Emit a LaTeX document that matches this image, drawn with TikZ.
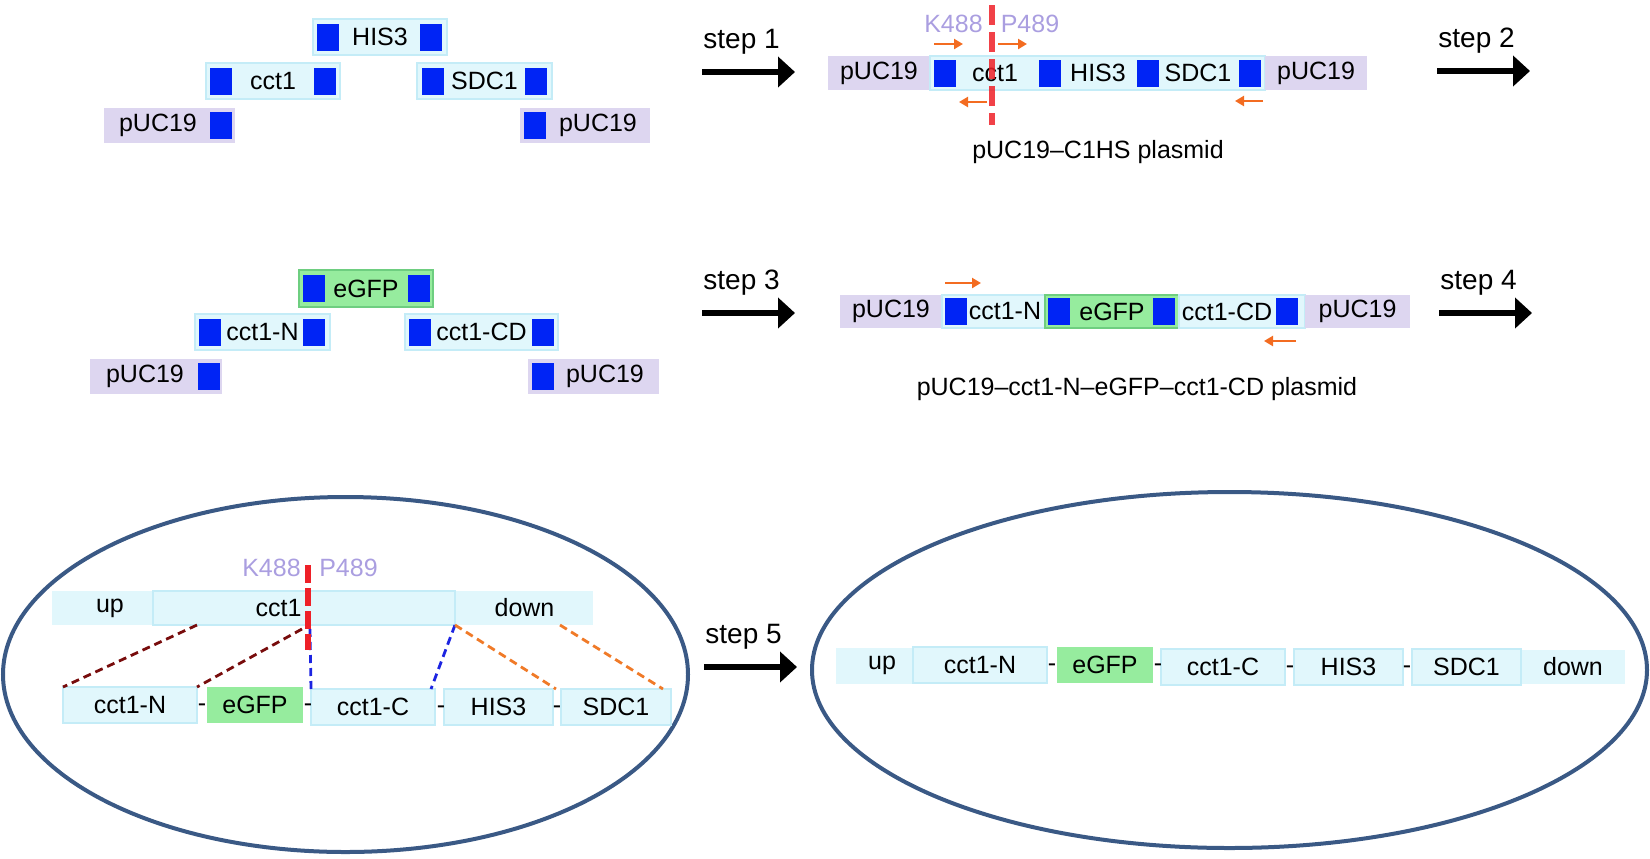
\documentclass[tikz,border=0pt]{standalone}
\usepackage{fontspec}
\setmainfont{Liberation Sans}
\usetikzlibrary{arrows.meta,positioning,shapes.geometric}

\definecolor{lavfill}{RGB}{221,214,240}
\definecolor{cyanfill}{RGB}{225,247,252}
\definecolor{cyanline}{RGB}{196,236,247}
\definecolor{sqblue}{RGB}{0,36,245}
\definecolor{gfpfill}{RGB}{150,236,158}
\definecolor{gfpline}{RGB}{110,206,128}
\definecolor{sitecol}{RGB}{170,158,224}
\definecolor{cutred}{RGB}{238,32,40}
\definecolor{primercol}{RGB}{243,108,33}
\definecolor{mapred}{RGB}{120,12,12}
\definecolor{mapblue}{RGB}{28,36,225}
\definecolor{maporange}{RGB}{240,122,40}
\definecolor{ellcol}{RGB}{58,89,133}

\newcommand{\lblfont}{\fontsize{12.5}{15}\selectfont}
\newcommand{\stepfont}{\fontsize{14}{17}\selectfont}

\begin{document}
\begin{tikzpicture}[
    x=0.5pt, y=-0.5pt,
    wd/.style={minimum width=#1*0.5pt},
    ht/.style={minimum height=#1*0.5pt},
    seg/.style={rectangle, inner sep=0pt, outer sep=0pt, ht=36, font=\lblfont},
    pucbox/.style={seg, fill=lavfill},
    armbox/.style={seg, fill=cyanfill},
    cctbox/.style={seg, fill=cyanfill, draw=cyanline, line width=1pt},
    gfpbox/.style={seg, fill=gfpfill},
    gfpedge/.style={gfpbox, draw=gfpline, line width=1pt},
    homol/.style={rectangle, fill=sqblue, inner sep=0pt, outer sep=0pt, wd=22, ht=27},
    txt/.style={inner sep=0pt, font=\lblfont},
    site/.style={txt, text=sitecol},
    steptxt/.style={inner sep=0pt, anchor=west, font=\stepfont},
    steparrow/.style={-{Triangle[length=8.5pt,width=15pt]}, line width=3.4pt},
    primer/.style={-{Triangle[length=4.5pt,width=5pt]}, line width=1.2pt, primercol},
    cutline/.style={cutred, line width=3pt, dash pattern=on 10pt off 3.5pt},
    mapline/.style={line width=1.4pt, dash pattern=on 4pt off 2.5pt},
    lens/.style={ellipse, draw=ellcol, line width=2pt, inner sep=0pt}
]
\useasboundingbox (0,0) rectangle (1650,858);

% fragments for step 1
\node[cctbox, wd=134] (his1) at (380,37) {HIS3};
\node[cctbox, wd=134] (cct1) at (273,81) {cct1};
\node[cctbox, wd=135] (sdc1) at (484.5,81) {SDC1};
\node[pucbox, wd=131, ht=35] (puc1) at (169.5,125.5) {};
\node[pucbox, wd=130, ht=35] (puc2) at (585,125.5) {};
\node[txt] (puc1t) at (158,125.5) {pUC19};
\node[txt] (puc2t) at (598,125.5) {pUC19};
\foreach \x/\y [count=\i] in {327.5/37,431/37,221/81,324.5/81,432.5/81,536/81,221/125.5,535/125.5}
    \node[homol] (hma\i) at (\x,\y) {};

% pUC19-C1HS plasmid
\node[pucbox, wd=102, ht=34] (pl1a) at (879,73) {pUC19};
\node[cctbox, wd=335, ht=34, right=0pt of pl1a] (pl1b) {};
\node[pucbox, wd=102, ht=34, right=0pt of pl1b] (pl1c) {pUC19};
\foreach \x [count=\i] in {945,1049.5,1147.5,1249.5}
    \node[homol] (hmb\i) at (\x,73) {};
\node[txt] (pl1t1) at (995,73) {cct1};
\node[txt] (pl1t2) at (1098,73) {HIS3};
\node[txt] (pl1t3) at (1198,73) {SDC1};
\foreach \a/\b/\y in {934/963/44, 998/1027/44, 987/959/102, 1263/1235/101}
    \draw[primer] (\a,\y) -- (\b,\y);
\coordinate (cut1a) at (992,5);
\coordinate (cut1b) at (992,125);
\draw[cutline, opacity=0.85] (cut1a) -- (cut1b);
\node[site] (k1) at (953.5,24) {K488};
\node[site] (p1) at (1030,24) {P489};
\node[txt] (cap1) at (1098,152) {pUC19–C1HS plasmid};

% fragments for step 3
\node[gfpedge, wd=134, ht=37] (gfp3) at (366,288.5) {eGFP};
\node[cctbox, wd=135] (ctn3) at (262.5,332) {cct1-N};
\node[cctbox, wd=153] (ctc3) at (481.5,332) {cct1-CD};
\node[pucbox, wd=132, ht=35] (puc3) at (156,376) {};
\node[pucbox, wd=131, ht=35] (puc4) at (593.5,376) {};
\node[txt] (puc3t) at (145,376) {pUC19};
\node[txt] (puc4t) at (605,376) {pUC19};
\foreach \x/\y [count=\i] in {313.5/288.5,418.5/288.5,210/332,313.5/332,419.5/332,542.5/332,208.5/376,542.5/376}
    \node[homol] (hmc\i) at (\x,\y) {};

% pUC19-cct1-N-eGFP-cct1-CD plasmid
\node[pucbox, wd=102, ht=33] (pl2a) at (891,311.5) {pUC19};
\node[cctbox, wd=103, ht=33, right=0pt of pl2a] (pl2b) {};
\node[gfpedge, wd=134, ht=33, right=0pt of pl2b] (pl2c) {};
\node[cctbox, wd=126, ht=33, right=0pt of pl2c] (pl2d) {};
\node[pucbox, wd=105, ht=33, right=0pt of pl2d] (pl2e) {pUC19};
\foreach \x [count=\i] in {955.5,1058.5,1164,1287}
    \node[homol] (hmd\i) at (\x,311.5) {};
\node[txt] (pl2t1) at (1005,311.5) {cct1-N};
\node[txt] (pl2t2) at (1112,311.5) {eGFP};
\node[txt] (pl2t3) at (1227,311.5) {cct1-CD};
\foreach \a/\b/\y in {945/981/283, 1296/1264/341}
    \draw[primer] (\a,\y) -- (\b,\y);
\node[txt] (cap2) at (1137,389) {pUC19–cct1-N–eGFP–cct1-CD plasmid};

% step arrows
\foreach \n/\x/\y in {1/703/42, 2/1438/41, 3/703/283, 4/1440/283, 5/705/637} {
    \node[steptxt] (step\n) at (\x,\y) {step \n};
    \coordinate (sa\n) at (\x-1,\y+30);
    \coordinate (sb\n) at (\x+92,\y+30);
    \draw[steparrow] (sa\n) -- (sb\n);
}

% genome locus and donor
\node[lens, wd=685, ht=355] (lens1) at (345.5,674.5) {};
\node[armbox, wd=116, ht=34] (up1) at (110,608) {up};
\node[armbox, wd=137, ht=34] (dn1) at (524.5,608) {down};
\node[cctbox, wd=302, ht=34] (gene1) at (304,608) {};
\node[txt] (gene1t) at (278.5,608) {cct1};
\node[cctbox, wd=134] (ctn5) at (130,705) {cct1-N};
\node[gfpbox, wd=96] (gfp5) at (255,705) {eGFP};
\node[cctbox, wd=124] (ctc5) at (373,707) {cct1-C};
\node[cctbox, wd=109] (his5) at (498.5,707) {HIS3};
\node[cctbox, wd=110] (sdc5) at (616,707) {SDC1};
\foreach \x/\y [count=\i] in {202/708,308/708,441/710,557/710}
    \node[txt] (dsh5\i) at (\x,\y) {-};
\coordinate (mapn1) at (197,625);
\coordinate (mapn2) at (302,629);
\coordinate (mapc1) at (310,629);
\coordinate (mapd1) at (560,625);
\draw[mapline, mapred] (mapn1) -- (ctn5.north west);
\draw[mapline, mapred] (mapn2) -- (ctn5.north east);
\draw[mapline, mapblue] (mapc1) -- (ctc5.north west);
\draw[mapline, mapblue] (gene1.south east) -- ([xshift=-2pt]ctc5.north east);
\draw[mapline, maporange] (gene1.south east) -- ([xshift=1.5pt]his5.north east);
\draw[mapline, maporange] (mapd1) -- ([xshift=-4pt]sdc5.north east);
\coordinate (cut2a) at (308,565);
\coordinate (cut2b) at (308,650);
\draw[cutline, dash pattern=on 9pt off 2.5pt] (cut2a) -- (cut2b);
\node[site] (k2) at (271.5,568) {K488};
\node[site] (p2) at (348.5,568) {P489};

% edited locus
\node[lens, wd=835, ht=356] (lens2) at (1229.5,670) {};
\node[armbox, wd=92] (up2) at (882,665.5) {up};
\node[armbox, wd=104, ht=34] (dn2) at (1573,666.5) {down};
\node[cctbox, wd=134] (ctn6) at (980,665) {cct1-N};
\node[gfpbox, wd=96] (gfp6) at (1105,665) {eGFP};
\node[cctbox, wd=124] (ctc6) at (1223,666.5) {cct1-C};
\node[cctbox, wd=109] (his6) at (1348.5,666.5) {HIS3};
\node[cctbox, wd=109] (sdc6) at (1466.5,666.5) {SDC1};
\foreach \x/\y [count=\i] in {1052/668,1158/668,1290/669.5,1407/669.5}
    \node[txt] (dsh6\i) at (\x,\y) {-};
\end{tikzpicture}
\end{document}
